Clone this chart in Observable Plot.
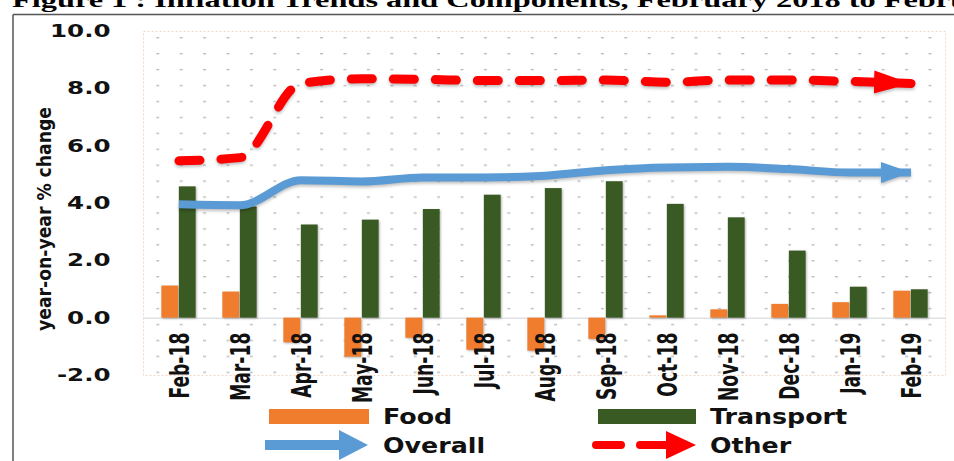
<!DOCTYPE html>
<html>
<head>
<meta charset="utf-8">
<script src="https://cdn.jsdelivr.net/npm/d3@7"></script>
<script src="https://cdn.jsdelivr.net/npm/@observablehq/plot@0.6"></script>
<style>
  html, body { margin: 0; padding: 0; background: #fff; }
  #page { position: relative; width: 954px; height: 461px; overflow: hidden; background: #fff; }
  #page > svg { position: absolute; left: 0; top: 0; }
</style>
</head>
<body>
<div id="page">
  <svg id="defs" width="0" height="0">
    <defs>
      <pattern id="dotgrid" patternUnits="userSpaceOnUse" x="15.4" y="4.7" width="23.4" height="15.93">
        <rect x="0" y="0" width="3" height="1.4" fill="#bdbdbd"></rect>
      </pattern>
      <marker id="headOverall" markerUnits="userSpaceOnUse" orient="auto"
              viewBox="0 -15 40 30" markerWidth="40" markerHeight="30" refX="30" refY="0">
        <path d="M0,-10.5L30,0L0,10.5Z" fill="#5b9bd5"></path>
      </marker>
      <marker id="headOther" markerUnits="userSpaceOnUse" orient="auto"
              viewBox="0 -15 44 30" markerWidth="44" markerHeight="30" refX="37" refY="0">
        <path d="M0,-11.5L37,0L0,11.5Z" fill="#ff0000"></path>
      </marker>
    </defs>
  </svg>
</div>
<script>
// Monthly year-on-year % change, February 2018 to February 2019
const months = ["Feb-18", "Mar-18", "Apr-18", "May-18", "Jun-18", "Jul-18", "Aug-18",
                "Sep-18", "Oct-18", "Nov-18", "Dec-18", "Jan-19", "Feb-19"];
const food      = [1.12, 0.91, -0.86, -1.36, -0.70, -1.12, -1.15, -0.74, 0.08, 0.29, 0.48, 0.54, 0.94];
const transport = [4.58, 3.88, 3.25, 3.42, 3.79, 4.29, 4.52, 4.76, 3.97, 3.50, 2.34, 1.08, 0.99];
const overall   = [3.97, 3.94, 4.81, 4.77, 4.91, 4.91, 4.97, 5.16, 5.26, 5.28, 5.20, 5.08, 5.08];
const other     = [5.49, 5.60, 8.19, 8.35, 8.33, 8.29, 8.29, 8.31, 8.23, 8.31, 8.31, 8.26, 8.19];
const yTicks = [-2, 0, 2, 4, 6, 8, 10];
const seriesNames = ["Food", "Transport", "Overall", "Other"];
const yLabel = "year-on-year % change";
const title = "Figure 1 : Inflation  Trends and Components, February 2018 to February 2019";

const colors = {Food: "#ef7d2d", Transport: "#3a5a23", Overall: "#5b9bd5", Other: "#ff0000"};

const rows = months.map((m, i) => ({month: m, food: food[i], transport: transport[i], overall: overall[i], other: other[i]}));

const W = 954, H = 405;
const mL = 143, mR = 9, mT = 31, mB = 30;
const band = (W - mL - mR) / months.length;
const barW = 17.5;

const chart = Plot.plot({
  width: W,
  height: H,
  marginLeft: mL,
  marginRight: mR,
  marginTop: mT,
  marginBottom: mB,
  style: {fontFamily: "DejaVu Sans", background: "transparent", overflow: "visible"},
  x: {domain: months, padding: 0, axis: null},
  y: {domain: [-2, 10], axis: null},
  marks: [
    Plot.frame({fill: "url(#dotgrid)", stroke: "#f3d6c3", strokeDasharray: "2,2"}),
    Plot.ruleY([0], {stroke: "#d0d4da", strokeWidth: 1}),
    Plot.barY(rows, {x: "month", y: "food", fill: colors.Food,
      insetLeft: band / 2 - barW, insetRight: band / 2}),
    Plot.barY(rows, {x: "month", y: "transport", fill: colors.Transport,
      insetLeft: band / 2, insetRight: band / 2 - barW}),
    Plot.line(rows, {x: "month", y: "overall", stroke: colors.Overall, strokeWidth: 8,
      curve: "monotone-x", strokeLinecap: "butt"}),
    Plot.line(rows, {x: "month", y: "other", stroke: colors.Other, strokeWidth: 9,
      curve: "monotone-x", strokeDasharray: "21,21", strokeLinecap: "round"}),
    Plot.text(months, {x: d => d, y: () => 0, text: d => d, rotate: -90,
      textAnchor: "end", lineAnchor: "middle", dy: 14.5, dx: 1.5,
      fontSize: 26, fontWeight: "bold", fill: "#111"}),
    Plot.text([yLabel], {frameAnchor: "left", text: d => d, rotate: -90,
      textAnchor: "middle", lineAnchor: "middle", dx: -99, dy: 15.5,
      fontSize: 20, fontWeight: "bold", fill: "#111"}),
    Plot.axisY(yTicks, {tickSize: 0, tickPadding: 33, tickFormat: d => d.toFixed(1),
      fontSize: 17.5, fontWeight: "bold", fill: "#111"})
  ]
});

const page = document.getElementById("page");
page.appendChild(chart);

// widen or narrow glyphs along the text direction
function stretch(nodes, factor) {
  nodes.forEach(t => {
    const n = t.getComputedTextLength();
    t.setAttribute("textLength", (n * factor).toFixed(2));
    t.setAttribute("lengthAdjust", "spacingAndGlyphs");
  });
}

const textGroups = chart.querySelectorAll('g[aria-label="text"]');
stretch(textGroups[0].querySelectorAll("text"), 0.66);
stretch(textGroups[1].querySelectorAll("text"), 0.86);
const tickGroup = chart.querySelector('g[aria-label="y-axis tick label"]');
if (tickGroup) stretch(tickGroup.querySelectorAll("text"), 1.4);

// arrowheads and soft shadows
const lineGroups = chart.querySelectorAll('g[aria-label="line"]');
lineGroups[0].querySelectorAll("path").forEach(p => p.setAttribute("marker-end", "url(#headOverall)"));
lineGroups[1].querySelectorAll("path").forEach(p => p.setAttribute("marker-end", "url(#headOther)"));
lineGroups.forEach(g => g.style.filter = "drop-shadow(0px 2px 1.5px rgba(0,0,0,0.25))");
chart.querySelectorAll('g[aria-label="bar"]').forEach(g => g.style.filter = "drop-shadow(1.5px 1px 1.2px rgba(0,0,0,0.3))");

// title, outer border and legend
const over = d3.select(page).append("svg")
  .attr("width", 954).attr("height", 461)
  .style("pointer-events", "none");

const tt = over.append("text")
  .attr("x", 12).attr("y", 6.5)
  .attr("font-family", "Liberation Serif").attr("font-weight", "bold").attr("font-size", 22)
  .attr("fill", "#000")
  .text(title);
stretch([tt.node()], 1.47);

over.append("line").attr("x1", 13).attr("x2", 13).attr("y1", 14.5).attr("y2", 461)
  .attr("stroke", "#555").attr("stroke-width", 1.5);
over.append("line").attr("x1", 13).attr("x2", 954).attr("y1", 14.5).attr("y2", 14.5)
  .attr("stroke", "#555").attr("stroke-width", 1.5);

const lg = over.append("g")
  .attr("font-family", "DejaVu Sans").attr("font-weight", "bold").attr("font-size", 22).attr("fill", "#111");

// Food / Transport swatches
lg.append("rect").attr("x", 269).attr("y", 409).attr("width", 100).attr("height", 15).attr("fill", colors.Food);
lg.append("rect").attr("x", 598).attr("y", 409).attr("width", 98).attr("height", 15).attr("fill", colors.Transport);
// Overall arrow
lg.append("line").attr("x1", 265).attr("x2", 342).attr("y1", 445).attr("y2", 445)
  .attr("stroke", colors.Overall).attr("stroke-width", 10);
lg.append("path").attr("d", "M339,430L368,445L339,460Z").attr("fill", colors.Overall);
// Other dashed arrow
lg.append("line").attr("x1", 596).attr("x2", 621).attr("y1", 445).attr("y2", 445)
  .attr("stroke", colors.Other).attr("stroke-width", 8).attr("stroke-linecap", "round");
lg.append("line").attr("x1", 640).attr("x2", 668).attr("y1", 445).attr("y2", 445)
  .attr("stroke", colors.Other).attr("stroke-width", 8).attr("stroke-linecap", "round");
lg.append("path").attr("d", "M666,431L696,445L666,459Z").attr("fill", colors.Other);

const legendText = [
  {name: seriesNames[0], x: 383, y: 424},
  {name: seriesNames[1], x: 710, y: 424},
  {name: seriesNames[2], x: 383, y: 453},
  {name: seriesNames[3], x: 710, y: 453}
];
legendText.forEach(d => {
  const t = lg.append("text").attr("x", d.x).attr("y", d.y).text(d.name);
  stretch([t.node()], 1.15);
});
</script>
</body>
</html>
